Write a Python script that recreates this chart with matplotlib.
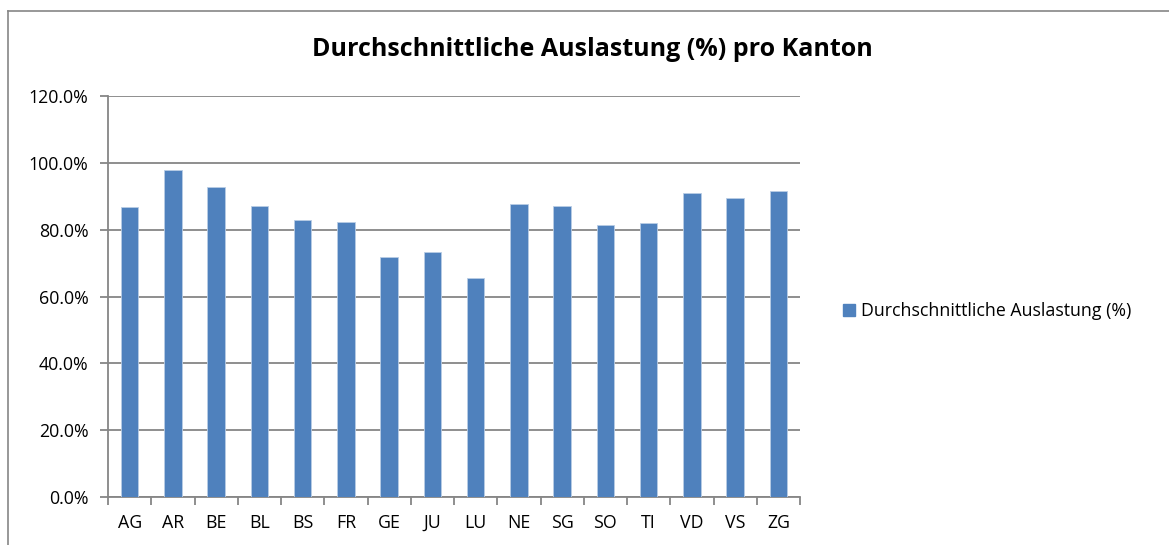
import matplotlib.pyplot as plt
from matplotlib.lines import Line2D
from matplotlib.ticker import MultipleLocator, FuncFormatter

# Data
kantone = ['AG', 'AR', 'BE', 'BL', 'BS', 'FR', 'GE', 'JU', 'LU', 'NE',
           'SG', 'SO', 'TI', 'VD', 'VS', 'ZG']
auslastung = [86.9, 98.0, 92.8, 87.0, 82.9, 82.4, 71.9, 73.3, 65.4, 87.8,
              87.2, 81.4, 82.1, 91.1, 89.6, 91.6]
serie = 'Durchschnittliche Auslastung (%)'
titel = 'Durchschnittliche Auslastung (%) pro Kanton'

plt.rcParams['font.family'] = ['Open Sans', 'DejaVu Sans']

W, H = 1169, 545
fig = plt.figure(figsize=(W / 100, H / 100), dpi=100)

# plot area in pixels: left 108, right 800, top 96, bottom 497
ax = fig.add_axes([108 / W, 1 - 497 / H, (800 - 108) / W, (497 - 96) / H])

bar_col = '#4f81bd'
grid_col = '#868686'

x = range(len(kantone))
ax.bar(x, auslastung, width=0.4, color=bar_col, edgecolor='#b9cde5',
       linewidth=0.6, zorder=3, label=serie)

ax.set_xlim(-0.5, len(kantone) - 0.5)
ax.set_ylim(0, 120)
ax.yaxis.set_major_locator(MultipleLocator(20))
ax.yaxis.set_major_formatter(FuncFormatter(lambda v, p: f'{v:.1f}%'))
ax.grid(axis='y', color=grid_col, linewidth=1.3, zorder=0)

ax.set_xticks(list(x))
ax.set_xticklabels(kantone)
ax.set_xticks([i + 0.5 for i in range(-1, len(kantone))], minor=True)
ax.tick_params(axis='x', which='major', length=0, pad=12, labelsize=12.8)
ax.tick_params(axis='x', which='minor', length=6, width=1.3, color=grid_col)
ax.tick_params(axis='y', length=6, width=1.3, color=grid_col, pad=8, labelsize=12.8)

for s in ['top', 'right']:
    ax.spines[s].set_visible(False)
for s in ['left', 'bottom']:
    ax.spines[s].set_color(grid_col)
    ax.spines[s].set_linewidth(1.3)

# title
fig.text(592 / W, 1 - 50 / H, titel, ha='center', va='center',
         fontsize=18, fontweight='bold')

# legend
handle = Line2D([], [], marker='s', linestyle='none', markersize=8,
                markerfacecolor=bar_col, markeredgecolor=bar_col)
fig.legend([handle], [serie], loc='center left',
           bbox_to_anchor=(824 / W, 1 - 311 / H), frameon=False,
           fontsize=12.8, handletextpad=0.2, handlelength=1.0)

# chart frame (top and left edges visible)
fig.add_artist(Line2D([8 / W, 1.0], [1 - 11 / H, 1 - 11 / H],
                      transform=fig.transFigure, color='#868686', linewidth=1.2))
fig.add_artist(Line2D([8 / W, 8 / W], [0, 1 - 11 / H],
                      transform=fig.transFigure, color='#868686', linewidth=1.2))

fig.savefig('out.png', dpi=100)
